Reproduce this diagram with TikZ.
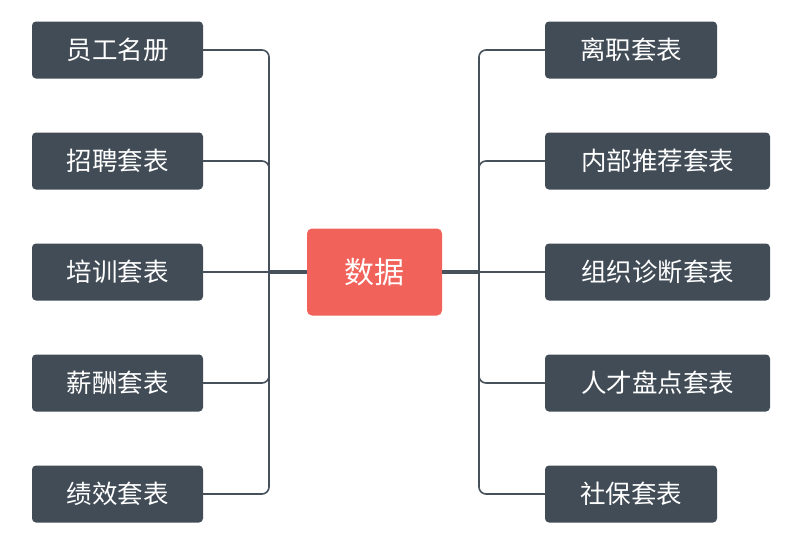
\documentclass[tikz,border=0pt]{standalone}
\usepackage{fontspec}
\newfontfamily\cjk{Noto Sans CJK SC}
\definecolor{boxc}{HTML}{414C56}
\definecolor{redc}{HTML}{F1625A}
\definecolor{linec}{HTML}{46515B}
\begin{document}
\begin{tikzpicture}[x=1pt,y=-1pt,
  leaf/.style={fill=boxc, rounded corners=4pt, minimum height=57pt, inner sep=0pt, text=white, font=\cjk\fontsize{25.5}{25.5}\selectfont, anchor=center},
  hub/.style={fill=redc, rounded corners=5pt, minimum width=135pt, minimum height=87pt, inner sep=0pt, text=white, font=\cjk\fontsize{30}{30}\selectfont},
  conn/.style={draw=linec, line width=1.6pt, rounded corners=7pt},
  thick conn/.style={draw=linec, line width=3.2pt}]
\useasboundingbox (0,0) rectangle (800,544);
\coordinate (ls) at (269,272);
\coordinate (rs) at (479,272);
\node[hub] (c) at (374.5,272) {数据};
\node[leaf, minimum width=171pt] (l1) at (117.5,50) {员工名册};
\node[leaf, minimum width=171pt] (l2) at (117.5,161) {招聘套表};
\node[leaf, minimum width=171pt] (l3) at (117.5,272) {培训套表};
\node[leaf, minimum width=171pt] (l4) at (117.5,383) {薪酬套表};
\node[leaf, minimum width=171pt] (l5) at (117.5,494) {绩效套表};
\node[leaf, minimum width=172pt] (r1) at (631,50) {离职套表};
\node[leaf, minimum width=225pt] (r2) at (657.5,161) {内部推荐套表};
\node[leaf, minimum width=225pt] (r3) at (657.5,272) {组织诊断套表};
\node[leaf, minimum width=225pt] (r4) at (657.5,383) {人才盘点套表};
\node[leaf, minimum width=172pt] (r5) at (631,494) {社保套表};
\foreach \n in {l1,l2,l4,l5} {\draw[conn] (\n.east) -| (ls);}
\foreach \n in {r1,r2,r4,r5} {\draw[conn] (\n.west) -| (rs);}
\draw[conn] (l3.east) -- (ls);
\draw[conn] (r3.west) -- (rs);
\draw[thick conn] (ls) -- (c.west);
\draw[thick conn] (rs) -- (c.east);
\end{tikzpicture}
\end{document}
